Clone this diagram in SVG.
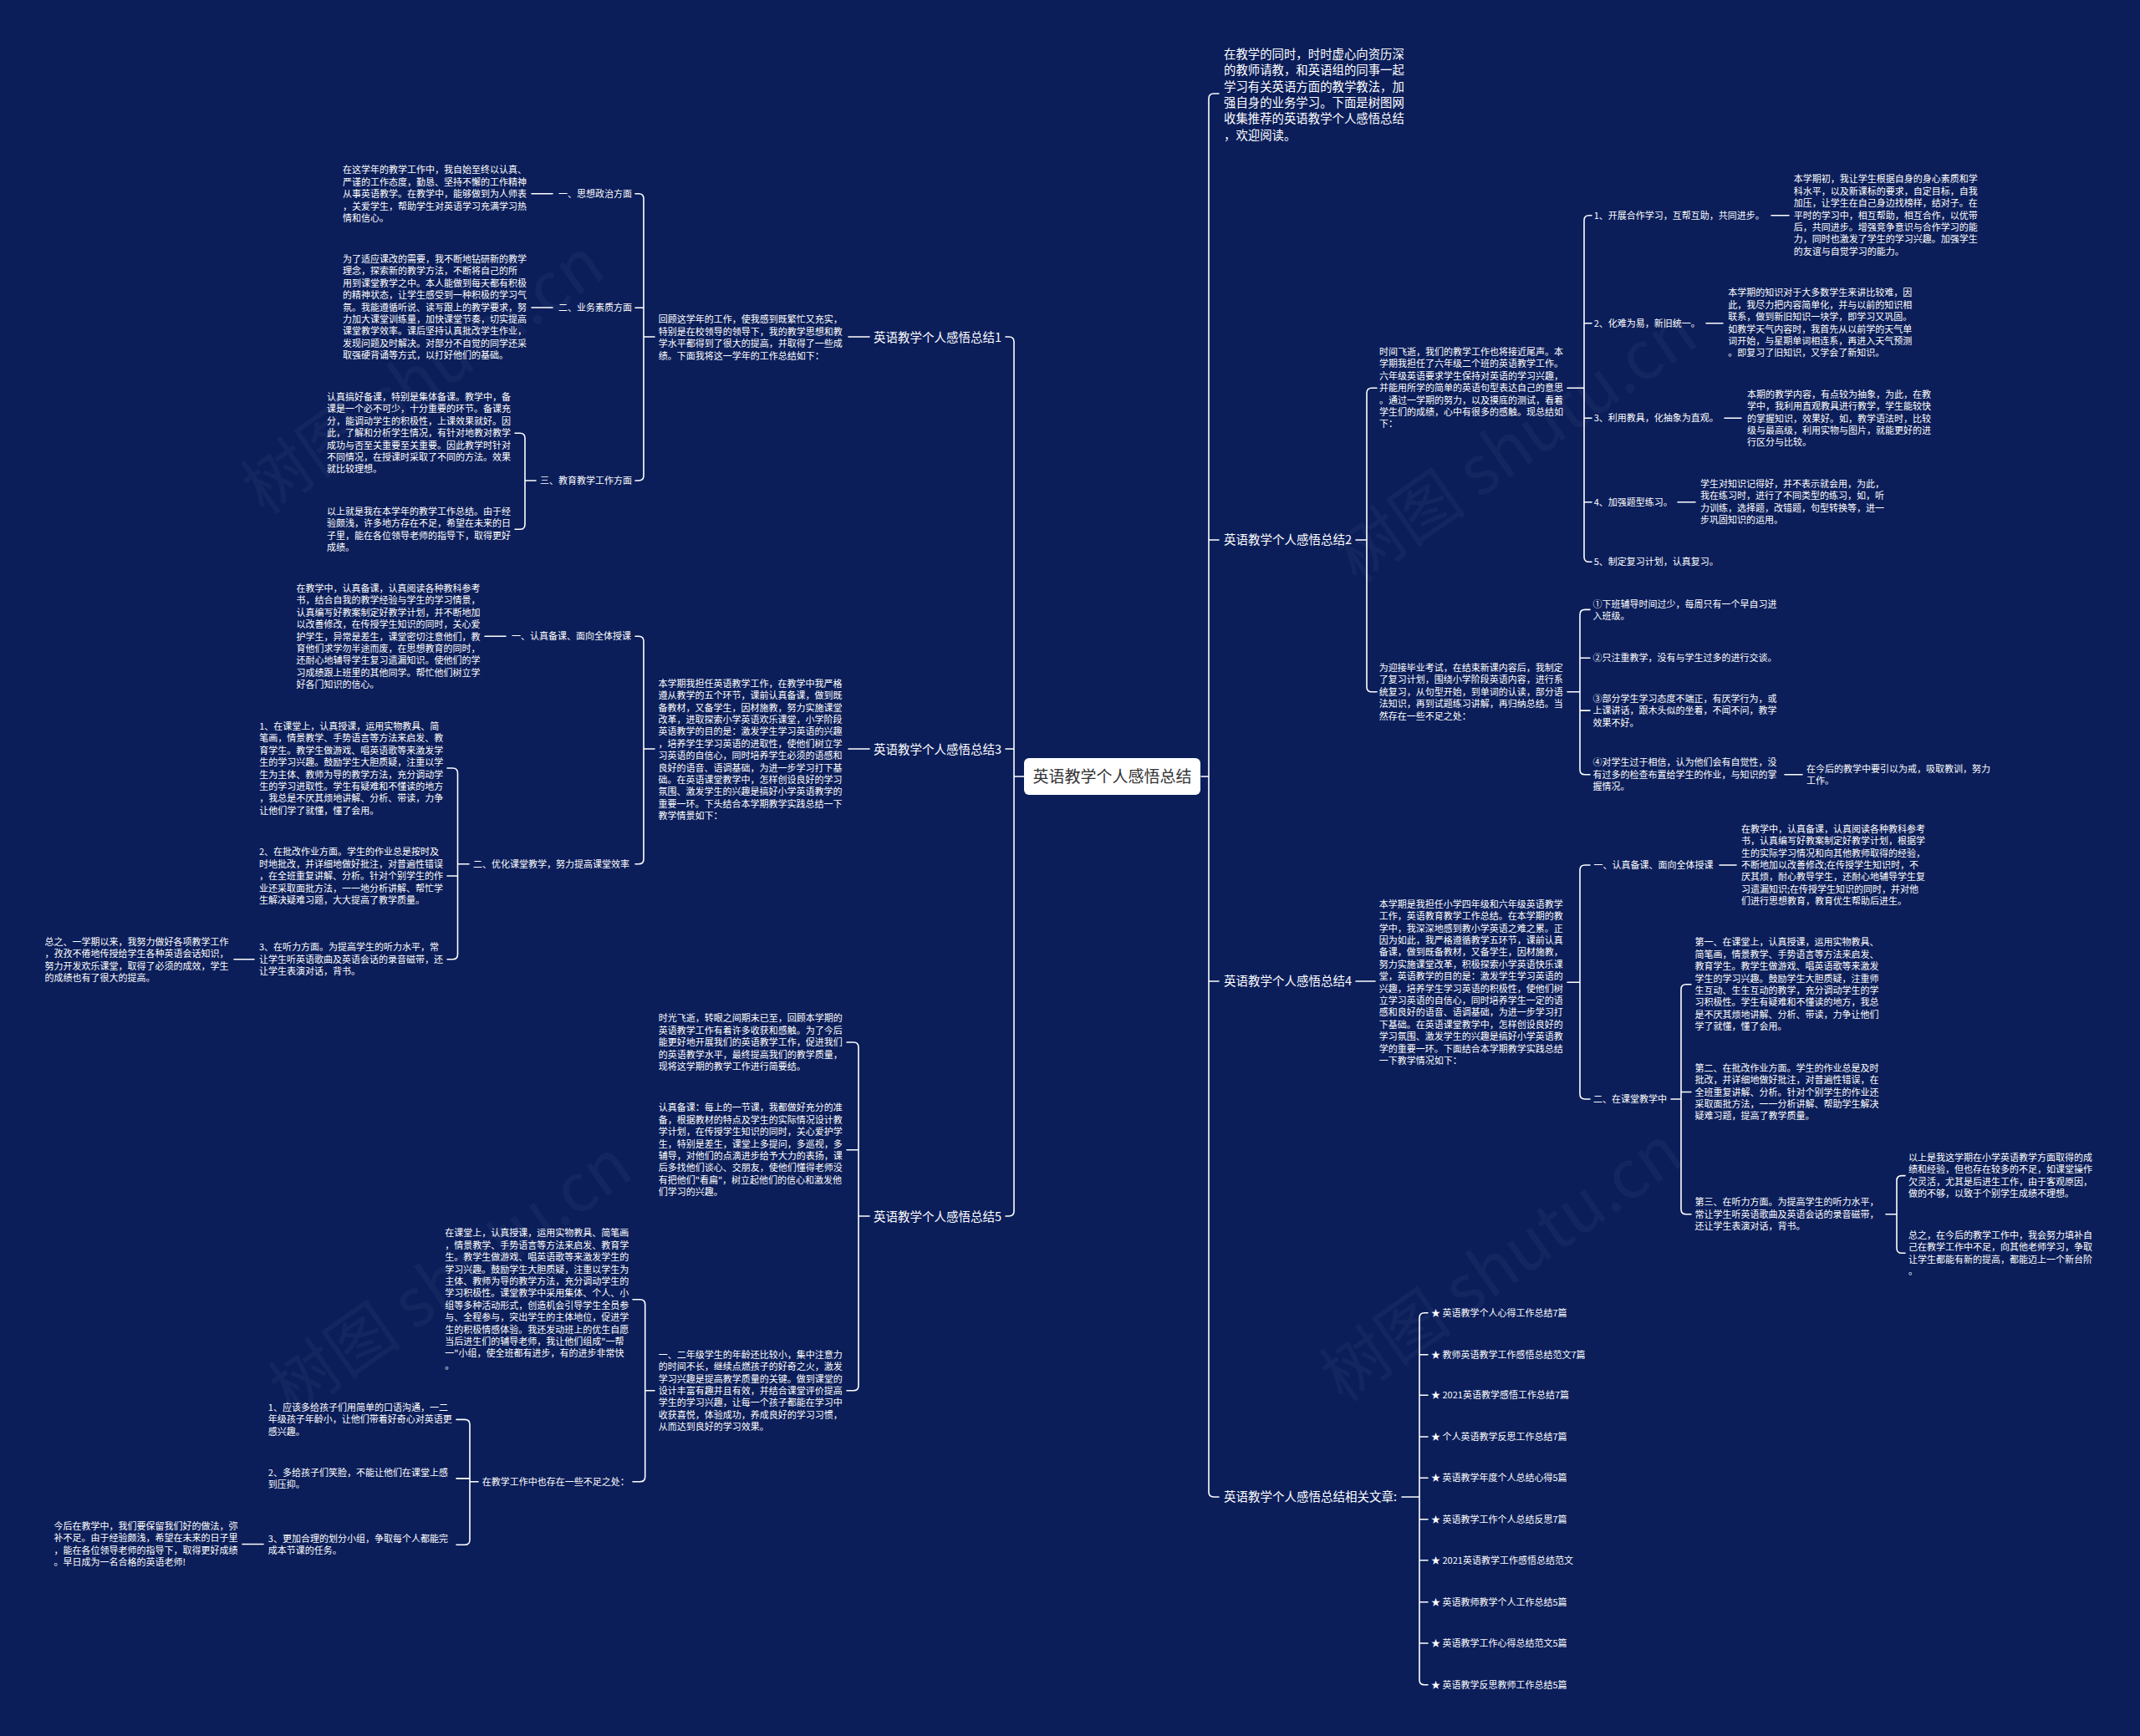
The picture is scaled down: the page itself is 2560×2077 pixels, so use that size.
<svg xmlns="http://www.w3.org/2000/svg" width="2560" height="2077" viewBox="0 0 2560 2077">
<style>
text{font-family:"Noto Sans CJK SC","Noto Sans",sans-serif;fill:#ffffff}
.t{font-size:11px}
.lb{font-size:14.5px}
.in{font-size:14.4px}
.ttl{font-size:19px;fill:#333333}
.wm{font-size:80px;fill:#ffffff;opacity:0.035}
.c{stroke:#ffffff;stroke-width:1.6;fill:none;stroke-linecap:round}
</style>
<rect x="0" y="0" width="2560" height="2077" fill="#0b1e5a"/>
<g id="watermark">
<text class="wm" x="522" y="473" text-anchor="middle" transform="rotate(-35 522 473)">树图 shutu.cn</text>
<text class="wm" x="1829" y="555" text-anchor="middle" transform="rotate(-35 1829 555)">树图 shutu.cn</text>
<text class="wm" x="555" y="1551" text-anchor="middle" transform="rotate(-35 555 1551)">树图 shutu.cn</text>
<text class="wm" x="1812" y="1535" text-anchor="middle" transform="rotate(-35 1812 1535)">树图 shutu.cn</text>
</g>
<g id="connectors" class="c">
<path d="M1203,403 H1207 Q1213,403 1213,409 V1449 Q1213,1455 1207,1455 H1203 M1213,896 H1203 M1225,929 H1213"/>
<path d="M1458,112 H1452 Q1446,112 1446,118 V1785 Q1446,1791 1452,1791 H1458 M1446,646 H1458 M1446,1174 H1458 M1437,929 H1446"/>
<path d="M1040,403 H1015"/>
<path d="M760,231.7 H764 Q770,231.7 770,237.7 V569 Q770,575 764,575 H760 M770,368.3 H760 M783,403 H770"/>
<path d="M636,231.7 H661 M636,368 H661"/>
<path d="M616,518.2 H622 Q628,518.2 628,524.2 V627.3 Q628,633.3 622,633.3 H616 M641,575 H628"/>
<path d="M1040,896 H1015"/>
<path d="M760,761.3 H764 Q770,761.3 770,767.3 V1027.7 Q770,1033.7 764,1033.7 H760 M783,896 H770"/>
<path d="M580,761.3 H605"/>
<path d="M535,919 H541.5 Q547.5,919 547.5,925 V1141.7 Q547.5,1147.7 541.5,1147.7 H535 M547.5,1048 H535 M561,1033.7 H547.5"/>
<path d="M280,1147.7 H304"/>
<path d="M1013,1247 H1021 Q1027,1247 1027,1253 V1657.7 Q1027,1663.7 1021,1663.7 H1013 M1027,1375.7 H1013 M1040,1455 H1027"/>
<path d="M757,1554.7 H765.7 Q771.7,1554.7 771.7,1560.7 V1766.7 Q771.7,1772.7 765.7,1772.7 H757 M783,1663.7 H771.7"/>
<path d="M546,1698.4 H556 Q562,1698.4 562,1704.4 V1842.2 Q562,1848.2 556,1848.2 H546 M562,1768.9 H546 M572,1772.7 H562"/>
<path d="M290,1847.5 H315"/>
<path d="M1647,464.2 H1641 Q1635,464.2 1635,470.2 V821.8 Q1635,827.8 1641,827.8 H1647 M1622,646 H1635"/>
<path d="M1875,464.3 H1895 M1904,257.7 H1901 Q1895,257.7 1895,263.7 V666.3 Q1895,672.3 1901,672.3 H1904 M1895,386.7 H1904 M1895,500.3 H1904 M1895,600.7 H1904"/>
<path d="M2119,257.7 H2140 M2041,386.7 H2061 M2063,500.3 H2083 M2007,600.7 H2028"/>
<path d="M1875,827.8 H1890 M1902,729.4 H1896 Q1890,729.4 1890,735.4 V920.7 Q1890,926.7 1896,926.7 H1902 M1890,787.3 H1902 M1890,850.1 H1902"/>
<path d="M2135,926.7 H2156"/>
<path d="M1622,1174 H1645"/>
<path d="M1875,1175.3 H1890 M1902,1035 H1896 Q1890,1035 1890,1041 V1309 Q1890,1315 1896,1315 H1902"/>
<path d="M2057,1035 H2077"/>
<path d="M1999,1315 H2011 M2023,1177.7 H2017 Q2011,1177.7 2011,1183.7 V1446.7 Q2011,1452.7 2017,1452.7 H2023 M2011,1306.5 H2023"/>
<path d="M2256,1452.7 H2269 M2279,1406.6 H2275 Q2269,1406.6 2269,1412.6 V1493.3 Q2269,1499.3 2275,1499.3 H2279"/>
<path d="M1677,1791 H1698 M1708,1570.7 H1704 Q1698,1570.7 1698,1576.7 V2009.7 Q1698,2015.7 1704,2015.7 H1708 M1698,1620.7 H1708 M1698,1669.3 H1708 M1698,1719 H1708 M1698,1768.3 H1708 M1698,1817.7 H1708 M1698,1866.7 H1708 M1698,1916.7 H1708 M1698,1966 H1708"/>
</g>
<g id="center">
<rect x="1225" y="907" width="211" height="44" rx="6" fill="#ffffff"/>
<text class="ttl" x="1330.5" y="936" text-anchor="middle">英语教学个人感悟总结</text>
</g>
<g id="b1"><text class="lb" x="1198" y="408.5" text-anchor="end">英语教学个人感悟总结1</text></g>
<g id="b1-main"><text class="t" x="787.7" y="386.3"><tspan x="787.7">回顾这学年的工作，使我感到既繁忙又充实，</tspan><tspan x="787.7" dy="14.4">特别是在校领导的领导下，我的教学思想和教</tspan><tspan x="787.7" dy="14.4">学水平都得到了很大的提高，并取得了一些成</tspan><tspan x="787.7" dy="14.4">绩。下面我将这一学年的工作总结如下：</tspan></text></g>
<g id="b1-l1"><text class="t" x="668" y="235.7">一、思想政治方面</text></g>
<g id="b1-l2"><text class="t" x="668" y="372.3">二、业务素质方面</text></g>
<g id="b1-l3"><text class="t" x="646" y="579">三、教育教学工作方面</text></g>
<g id="b1-t1"><text class="t" x="410" y="207.3"><tspan x="410">在这学年的教学工作中，我自始至终以认真、</tspan><tspan x="410" dy="14.4">严谨的工作态度，勤恳、坚持不懈的工作精神</tspan><tspan x="410" dy="14.4">从事英语教学。在教学中，能够做到为人师表</tspan><tspan x="410" dy="14.4">，关爱学生，帮助学生对英语学习充满学习热</tspan><tspan x="410" dy="14.4">情和信心。</tspan></text></g>
<g id="b1-t2"><text class="t" x="410" y="314"><tspan x="410">为了适应课改的需要，我不断地钻研新的教学</tspan><tspan x="410" dy="14.4">理念，探索新的教学方法，不断将自己的所</tspan><tspan x="410" dy="14.4">用到课堂教学之中。本人能做到每天都有积极</tspan><tspan x="410" dy="14.4">的精神状态，让学生感受到一种积极的学习气</tspan><tspan x="410" dy="14.4">氛。我能遵循听说、读写跟上的教学要求，努</tspan><tspan x="410" dy="14.4">力加大课堂训练量，加快课堂节奏，切实提高</tspan><tspan x="410" dy="14.4">课堂教学效率。课后坚持认真批改学生作业，</tspan><tspan x="410" dy="14.4">发现问题及时解决。对部分不自觉的同学还采</tspan><tspan x="410" dy="14.4">取强硬背诵等方式，以打好他们的基础。</tspan></text></g>
<g id="b1-t3a"><text class="t" x="391" y="479"><tspan x="391">认真搞好备课，特别是集体备课。教学中，备</tspan><tspan x="391" dy="14.4">课是一个必不可少，十分重要的环节。备课充</tspan><tspan x="391" dy="14.4">分，能调动学生的积极性，上课效果就好。因</tspan><tspan x="391" dy="14.4">此，了解和分析学生情况，有针对地教对教学</tspan><tspan x="391" dy="14.4">成功与否至关重要至关重要。因此教学时针对</tspan><tspan x="391" dy="14.4">不同情况，在授课时采取了不同的方法。效果</tspan><tspan x="391" dy="14.4">就比较理想。</tspan></text></g>
<g id="b1-t3b"><text class="t" x="391" y="615.7"><tspan x="391">以上就是我在本学年的教学工作总结。由于经</tspan><tspan x="391" dy="14.4">验颇浅，许多地方存在不足，希望在未来的日</tspan><tspan x="391" dy="14.4">子里，能在各位领导老师的指导下，取得更好</tspan><tspan x="391" dy="14.4">成绩。</tspan></text></g>
<g id="b3"><text class="lb" x="1198" y="901.5" text-anchor="end">英语教学个人感悟总结3</text></g>
<g id="b3-main"><text class="t" x="787.4" y="821.7"><tspan x="787.4">本学期我担任英语教学工作，在教学中我严格</tspan><tspan x="787.4" dy="14.4">遵从教学的五个环节，课前认真备课，做到既</tspan><tspan x="787.4" dy="14.4">备教材，又备学生，因材施教，努力实施课堂</tspan><tspan x="787.4" dy="14.4">改革，进取探索小学英语欢乐课堂，小学阶段</tspan><tspan x="787.4" dy="14.4">英语教学的目的是：激发学生学习英语的兴趣</tspan><tspan x="787.4" dy="14.4">，培养学生学习英语的进取性，使他们树立学</tspan><tspan x="787.4" dy="14.4">习英语的自信心，同时培养学生必须的语感和</tspan><tspan x="787.4" dy="14.4">良好的语音、语调基础，为进一步学习打下基</tspan><tspan x="787.4" dy="14.4">础。在英语课堂教学中，怎样创设良好的学习</tspan><tspan x="787.4" dy="14.4">氛围、激发学生的兴趣是搞好小学英语教学的</tspan><tspan x="787.4" dy="14.4">重要一环。下头结合本学期教学实践总结一下</tspan><tspan x="787.4" dy="14.4">教学情景如下：</tspan></text></g>
<g id="b3-l1"><text class="t" x="612" y="765.3">一、认真备课、面向全体授课</text></g>
<g id="b3-t1"><text class="t" x="354.5" y="708"><tspan x="354.5">在教学中，认真备课，认真阅读各种教科参考</tspan><tspan x="354.5" dy="14.4">书，结合自我的教学经验与学生的学习情景，</tspan><tspan x="354.5" dy="14.4">认真编写好教案制定好教学计划，并不断地加</tspan><tspan x="354.5" dy="14.4">以改善修改，在传授学生知识的同时，关心爱</tspan><tspan x="354.5" dy="14.4">护学生，异常是差生，课堂密切注意他们，教</tspan><tspan x="354.5" dy="14.4">育他们求学勿半途而废，在思想教育的同时，</tspan><tspan x="354.5" dy="14.4">还耐心地辅导学生复习遗漏知识。使他们的学</tspan><tspan x="354.5" dy="14.4">习成绩跟上班里的其他同学。帮忙他们树立学</tspan><tspan x="354.5" dy="14.4">好各门知识的信心。</tspan></text></g>
<g id="b3-l2"><text class="t" x="566" y="1037.7">二、优化课堂教学，努力提高课堂效率</text></g>
<g id="b3-t2a"><text class="t" x="310.2" y="873"><tspan x="310.2">1、在课堂上，认真授课，运用实物教具、简</tspan><tspan x="310.2" dy="14.4">笔画，情景教学、手势语言等方法来启发、教</tspan><tspan x="310.2" dy="14.4">育学生。教学生做游戏、唱英语歌等来激发学</tspan><tspan x="310.2" dy="14.4">生的学习兴趣。鼓励学生大胆质疑，注重以学</tspan><tspan x="310.2" dy="14.4">生为主体、教师为导的教学方法，充分调动学</tspan><tspan x="310.2" dy="14.4">生的学习进取性。学生有疑难和不懂读的地方</tspan><tspan x="310.2" dy="14.4">，我总是不厌其烦地讲解、分析、带读，力争</tspan><tspan x="310.2" dy="14.4">让他们学了就懂，懂了会用。</tspan></text></g>
<g id="b3-t2b"><text class="t" x="310" y="1023.3"><tspan x="310">2、在批改作业方面。学生的作业总是按时及</tspan><tspan x="310" dy="14.4">时地批改，并详细地做好批注，对普遍性错误</tspan><tspan x="310" dy="14.4">，在全班重复讲解、分析。针对个别学生的作</tspan><tspan x="310" dy="14.4">业还采取面批方法，一一地分析讲解、帮忙学</tspan><tspan x="310" dy="14.4">生解决疑难习题，大大提高了教学质量。</tspan></text></g>
<g id="b3-t2c"><text class="t" x="310" y="1137.3"><tspan x="310">3、在听力方面。为提高学生的听力水平，常</tspan><tspan x="310" dy="14.4">让学生听英语歌曲及英语会话的录音磁带，还</tspan><tspan x="310" dy="14.4">让学生表演对话，背书。</tspan></text></g>
<g id="b3-t2c1"><text class="t" x="53.6" y="1130.7"><tspan x="53.6">总之、一学期以来，我努力做好各项教学工作</tspan><tspan x="53.6" dy="14.4">，孜孜不倦地传授给学生各种英语会话知识，</tspan><tspan x="53.6" dy="14.4">努力开发欢乐课堂，取得了必须的成效，学生</tspan><tspan x="53.6" dy="14.4">的成绩也有了很大的提高。</tspan></text></g>
<g id="b5"><text class="lb" x="1198" y="1460.5" text-anchor="end">英语教学个人感悟总结5</text></g>
<g id="b5-t1"><text class="t" x="787.7" y="1222.3"><tspan x="787.7">时光飞逝，转眼之间期末已至，回顾本学期的</tspan><tspan x="787.7" dy="14.4">英语教学工作有着许多收获和感触。为了今后</tspan><tspan x="787.7" dy="14.4">能更好地开展我们的英语教学工作，促进我们</tspan><tspan x="787.7" dy="14.4">的英语教学水平，最终提高我们的教学质量，</tspan><tspan x="787.7" dy="14.4">现将这学期的教学工作进行简要结。</tspan></text></g>
<g id="b5-t2"><text class="t" x="787.7" y="1329.3"><tspan x="787.7">认真备课：每上的一节课，我都做好充分的准</tspan><tspan x="787.7" dy="14.4">备，根据教材的特点及学生的实际情况设计教</tspan><tspan x="787.7" dy="14.4">学计划，在传授学生知识的同时，关心爱护学</tspan><tspan x="787.7" dy="14.4">生，特别是差生，课堂上多提问，多巡视，多</tspan><tspan x="787.7" dy="14.4">辅导，对他们的点滴进步给予大力的表扬，课</tspan><tspan x="787.7" dy="14.4">后多找他们谈心、交朋友，使他们懂得老师没</tspan><tspan x="787.7" dy="14.4">有把他们&quot;看扁&quot;，树立起他们的信心和激发他</tspan><tspan x="787.7" dy="14.4">们学习的兴趣。</tspan></text></g>
<g id="b5-t3"><text class="t" x="787.7" y="1624.7"><tspan x="787.7">一、二年级学生的年龄还比较小，集中注意力</tspan><tspan x="787.7" dy="14.4">的时间不长，继续点燃孩子的好奇之火，激发</tspan><tspan x="787.7" dy="14.4">学习兴趣是提高教学质量的关键。做到课堂的</tspan><tspan x="787.7" dy="14.4">设计丰富有趣并且有效，并结合课堂评价提高</tspan><tspan x="787.7" dy="14.4">学生的学习兴趣，让每一个孩子都能在学习中</tspan><tspan x="787.7" dy="14.4">收获喜悦，体验成功，养成良好的学习习惯，</tspan><tspan x="787.7" dy="14.4">从而达到良好的学习效果。</tspan></text></g>
<g id="b5-t3a"><text class="t" x="532.3" y="1479.3"><tspan x="532.3">在课堂上，认真授课，运用实物教具、简笔画</tspan><tspan x="532.3" dy="14.4">，情景教学、手势语言等方法来启发、教育学</tspan><tspan x="532.3" dy="14.4">生。教学生做游戏、唱英语歌等来激发学生的</tspan><tspan x="532.3" dy="14.4">学习兴趣。鼓励学生大胆质疑，注重以学生为</tspan><tspan x="532.3" dy="14.4">主体、教师为导的教学方法，充分调动学生的</tspan><tspan x="532.3" dy="14.4">学习积极性。课堂教学中采用集体、个人、小</tspan><tspan x="532.3" dy="14.4">组等多种活动形式，创造机会引导学生全员参</tspan><tspan x="532.3" dy="14.4">与、全程参与，突出学生的主体地位，促进学</tspan><tspan x="532.3" dy="14.4">生的积极情感体验。我还发动班上的优生自愿</tspan><tspan x="532.3" dy="14.4">当后进生们的辅导老师，我让他们组成&quot;一帮</tspan><tspan x="532.3" dy="14.4">一&quot;小组，使全班都有进步，有的进步非常快</tspan><tspan x="532.3" dy="14.4">。</tspan></text></g>
<g id="b5-l3b"><text class="t" x="576.7" y="1776.7">在教学工作中也存在一些不足之处：</text></g>
<g id="b5-i1"><text class="t" x="320.8" y="1688"><tspan x="320.8">1、应该多给孩子们用简单的口语沟通，一二</tspan><tspan x="320.8" dy="14.4">年级孩子年龄小，让他们带着好奇心对英语更</tspan><tspan x="320.8" dy="14.4">感兴趣。</tspan></text></g>
<g id="b5-i2"><text class="t" x="320.8" y="1765.7"><tspan x="320.8">2、多给孩子们笑脸，不能让他们在课堂上感</tspan><tspan x="320.8" dy="14.4">到压抑。</tspan></text></g>
<g id="b5-i3"><text class="t" x="320.8" y="1845"><tspan x="320.8">3、更加合理的划分小组，争取每个人都能完</tspan><tspan x="320.8" dy="14.4">成本节课的任务。</tspan></text></g>
<g id="b5-i3c"><text class="t" x="64.5" y="1829.7"><tspan x="64.5">今后在教学中，我们要保留我们好的做法，弥</tspan><tspan x="64.5" dy="14.4">补不足。由于经验颇浅，希望在未来的日子里</tspan><tspan x="64.5" dy="14.4">，能在各位领导老师的指导下，取得更好成绩</tspan><tspan x="64.5" dy="14.4">。早日成为一名合格的英语老师!</tspan></text></g>
<g id="intro"><text class="in" x="1464" y="70"><tspan x="1464">在教学的同时，时时虚心向资历深</tspan><tspan x="1464" dy="19.3">的教师请教，和英语组的同事一起</tspan><tspan x="1464" dy="19.3">学习有关英语方面的教学教法，加</tspan><tspan x="1464" dy="19.3">强自身的业务学习。下面是树图网</tspan><tspan x="1464" dy="19.3">收集推荐的英语教学个人感悟总结</tspan><tspan x="1464" dy="19.3">，欢迎阅读。</tspan></text></g>
<g id="b2"><text class="lb" x="1464" y="651">英语教学个人感悟总结2</text></g>
<g id="b2-main"><text class="t" x="1650" y="425"><tspan x="1650">时间飞逝，我们的教学工作也将接近尾声。本</tspan><tspan x="1650" dy="14.4">学期我担任了六年级二个班的英语教学工作。</tspan><tspan x="1650" dy="14.4">六年级英语要求学生保持对英语的学习兴趣，</tspan><tspan x="1650" dy="14.4">并能用所学的简单的英语句型表达自己的意思</tspan><tspan x="1650" dy="14.4">。通过一学期的努力，以及摸底的测试，看着</tspan><tspan x="1650" dy="14.4">学生们的成绩，心中有很多的感触。现总结如</tspan><tspan x="1650" dy="14.4">下：</tspan></text></g>
<g id="b2-l1"><text class="t" x="1906.7" y="261.7">1、开展合作学习，互帮互助，共同进步。</text></g>
<g id="b2-t1"><text class="t" x="2145.7" y="218.3"><tspan x="2145.7">本学期初，我让学生根据自身的身心素质和学</tspan><tspan x="2145.7" dy="14.4">科水平，以及新课标的要求，自定目标，自我</tspan><tspan x="2145.7" dy="14.4">加压，让学生在自己身边找榜样，结对子。在</tspan><tspan x="2145.7" dy="14.4">平时的学习中，相互帮助，相互合作，以优带</tspan><tspan x="2145.7" dy="14.4">后，共同进步。增强竞争意识与合作学习的能</tspan><tspan x="2145.7" dy="14.4">力，同时也激发了学生的学习兴趣。加强学生</tspan><tspan x="2145.7" dy="14.4">的友谊与自觉学习的能力。</tspan></text></g>
<g id="b2-l2"><text class="t" x="1906.7" y="390.7">2、化难为易，新旧统一。</text></g>
<g id="b2-t2"><text class="t" x="2067.3" y="354.3"><tspan x="2067.3">本学期的知识对于大多数学生来讲比较难，因</tspan><tspan x="2067.3" dy="14.4">此，我尽力把内容简单化，并与以前的知识相</tspan><tspan x="2067.3" dy="14.4">联系，做到新旧知识一块学，即学习又巩固。</tspan><tspan x="2067.3" dy="14.4">如教学天气内容时，我首先从以前学的天气单</tspan><tspan x="2067.3" dy="14.4">词开始，与星期单词相连系，再进入天气预测</tspan><tspan x="2067.3" dy="14.4">。即复习了旧知识，又学会了新知识。</tspan></text></g>
<g id="b2-l3"><text class="t" x="1906.7" y="504.3">3、利用教具，化抽象为直观。</text></g>
<g id="b2-t3"><text class="t" x="2090" y="475.7"><tspan x="2090">本期的教学内容，有点较为抽象，为此，在教</tspan><tspan x="2090" dy="14.4">学中，我利用直观教具进行教学，学生能较快</tspan><tspan x="2090" dy="14.4">的掌握知识，效果好。如，教学语法时，比较</tspan><tspan x="2090" dy="14.4">级与最高级，利用实物与图片，就能更好的进</tspan><tspan x="2090" dy="14.4">行区分与比较。</tspan></text></g>
<g id="b2-l4"><text class="t" x="1906.7" y="604.7">4、加强题型练习。</text></g>
<g id="b2-t4"><text class="t" x="2034" y="583"><tspan x="2034">学生对知识记得好，并不表示就会用，为此，</tspan><tspan x="2034" dy="14.4">我在练习时，进行了不同类型的练习，如，听</tspan><tspan x="2034" dy="14.4">力训练，选择题，改错题，句型转换等，进一</tspan><tspan x="2034" dy="14.4">步巩固知识的运用。</tspan></text></g>
<g id="b2-l5"><text class="t" x="1906.7" y="676.3">5、制定复习计划，认真复习。</text></g>
<g id="b2-main2"><text class="t" x="1649.7" y="803"><tspan x="1649.7">为迎接毕业考试，在结束新课内容后，我制定</tspan><tspan x="1649.7" dy="14.4">了复习计划，围绕小学阶段英语内容，进行系</tspan><tspan x="1649.7" dy="14.4">统复习，从句型开始，到单词的认读，部分语</tspan><tspan x="1649.7" dy="14.4">法知识，再到试题练习讲解，再归纳总结。当</tspan><tspan x="1649.7" dy="14.4">然存在一些不足之处：</tspan></text></g>
<g id="b2-p1"><text class="t" x="1905.6" y="726.7"><tspan x="1905.6">①下班辅导时间过少，每周只有一个早自习进</tspan><tspan x="1905.6" dy="14.4">入班级。</tspan></text></g>
<g id="b2-p2"><text class="t" x="1905.6" y="791.3">②只注重教学，没有与学生过多的进行交谈。</text></g>
<g id="b2-p3"><text class="t" x="1905.6" y="839.7"><tspan x="1905.6">③部分学生学习态度不端正，有厌学行为，或</tspan><tspan x="1905.6" dy="14.4">上课讲话，跟木头似的坐着，不闻不问，教学</tspan><tspan x="1905.6" dy="14.4">效果不好。</tspan></text></g>
<g id="b2-p4"><text class="t" x="1905.6" y="916.3"><tspan x="1905.6">④对学生过于相信，认为他们会有自觉性，没</tspan><tspan x="1905.6" dy="14.4">有过多的检查布置给学生的作业，与知识的掌</tspan><tspan x="1905.6" dy="14.4">握情况。</tspan></text></g>
<g id="b2-p4c"><text class="t" x="2161" y="924"><tspan x="2161">在今后的教学中要引以为戒，吸取教训，努力</tspan><tspan x="2161" dy="14.4">工作。</tspan></text></g>
<g id="b4"><text class="lb" x="1464" y="1179">英语教学个人感悟总结4</text></g>
<g id="b4-main"><text class="t" x="1649.8" y="1085.7"><tspan x="1649.8">本学期是我担任小学四年级和六年级英语教学</tspan><tspan x="1649.8" dy="14.4">工作，英语教育教学工作总结。在本学期的教</tspan><tspan x="1649.8" dy="14.4">学中，我深深地感到教小学英语之难之累。正</tspan><tspan x="1649.8" dy="14.4">因为如此，我严格遵循教学五环节，课前认真</tspan><tspan x="1649.8" dy="14.4">备课，做到既备教材，又备学生，因材施教，</tspan><tspan x="1649.8" dy="14.4">努力实施课堂改革，积极探索小学英语快乐课</tspan><tspan x="1649.8" dy="14.4">堂，英语教学的目的是：激发学生学习英语的</tspan><tspan x="1649.8" dy="14.4">兴趣，培养学生学习英语的积极性，使他们树</tspan><tspan x="1649.8" dy="14.4">立学习英语的自信心，同时培养学生一定的语</tspan><tspan x="1649.8" dy="14.4">感和良好的语音、语调基础，为进一步学习打</tspan><tspan x="1649.8" dy="14.4">下基础。在英语课堂教学中，怎样创设良好的</tspan><tspan x="1649.8" dy="14.4">学习氛围、激发学生的兴趣是搞好小学英语教</tspan><tspan x="1649.8" dy="14.4">学的重要一环。下面结合本学期教学实践总结</tspan><tspan x="1649.8" dy="14.4">一下教学情况如下：</tspan></text></g>
<g id="b4-l1"><text class="t" x="1906.5" y="1039">一、认真备课、面向全体授课</text></g>
<g id="b4-t1"><text class="t" x="2083" y="995.7"><tspan x="2083">在教学中，认真备课，认真阅读各种教科参考</tspan><tspan x="2083" dy="14.4">书，认真编写好教案制定好教学计划，根据学</tspan><tspan x="2083" dy="14.4">生的实际学习情况和向其他教师取得的经验，</tspan><tspan x="2083" dy="14.4">不断地加以改善修改;在传授学生知识时，不</tspan><tspan x="2083" dy="14.4">厌其烦，耐心教导学生，还耐心地辅导学生复</tspan><tspan x="2083" dy="14.4">习遗漏知识;在传授学生知识的同时，并对他</tspan><tspan x="2083" dy="14.4">们进行思想教育，教育优生帮助后进生。</tspan></text></g>
<g id="b4-l2"><text class="t" x="1906" y="1319">二、在课堂教学中</text></g>
<g id="b4-t2a"><text class="t" x="2027.5" y="1131.3"><tspan x="2027.5">第一、在课堂上，认真授课，运用实物教具、</tspan><tspan x="2027.5" dy="14.4">简笔画，情景教学、手势语言等方法来启发、</tspan><tspan x="2027.5" dy="14.4">教育学生。教学生做游戏、唱英语歌等来激发</tspan><tspan x="2027.5" dy="14.4">学生的学习兴趣。鼓励学生大胆质疑，注重师</tspan><tspan x="2027.5" dy="14.4">生互动、生生互动的教学，充分调动学生的学</tspan><tspan x="2027.5" dy="14.4">习积极性。学生有疑难和不懂读的地方，我总</tspan><tspan x="2027.5" dy="14.4">是不厌其烦地讲解、分析、带读，力争让他们</tspan><tspan x="2027.5" dy="14.4">学了就懂，懂了会用。</tspan></text></g>
<g id="b4-t2b"><text class="t" x="2027.5" y="1281.7"><tspan x="2027.5">第二、在批改作业方面。学生的作业总是及时</tspan><tspan x="2027.5" dy="14.4">批改，并详细地做好批注，对普遍性错误，在</tspan><tspan x="2027.5" dy="14.4">全班重复讲解、分析。针对个别学生的作业还</tspan><tspan x="2027.5" dy="14.4">采取面批方法，一一分析讲解、帮助学生解决</tspan><tspan x="2027.5" dy="14.4">疑难习题，提高了教学质量。</tspan></text></g>
<g id="b4-t2c"><text class="t" x="2027.5" y="1442.3"><tspan x="2027.5">第三、在听力方面。为提高学生的听力水平，</tspan><tspan x="2027.5" dy="14.4">常让学生听英语歌曲及英语会话的录音磁带，</tspan><tspan x="2027.5" dy="14.4">还让学生表演对话，背书。</tspan></text></g>
<g id="b4-t2c1"><text class="t" x="2283" y="1389"><tspan x="2283">以上是我这学期在小学英语教学方面取得的成</tspan><tspan x="2283" dy="14.4">绩和经验，但也存在较多的不足，如课堂操作</tspan><tspan x="2283" dy="14.4">欠灵活，尤其是后进生工作，由于客观原因，</tspan><tspan x="2283" dy="14.4">做的不够，以致于个别学生成绩不理想。</tspan></text></g>
<g id="b4-t2c2"><text class="t" x="2283" y="1481.7"><tspan x="2283">总之，在今后的教学工作中，我会努力填补自</tspan><tspan x="2283" dy="14.4">己在教学工作中不足，向其他老师学习，争取</tspan><tspan x="2283" dy="14.4">让学生都能有新的提高，都能迈上一个新台阶</tspan><tspan x="2283" dy="14.4">。</tspan></text></g>
<g id="related"><text class="lb" x="1464" y="1796">英语教学个人感悟总结相关文章:</text></g>
<g id="related-items">
<text class="t" x="1712" y="1574.7">★ 英语教学个人心得工作总结7篇</text>
<text class="t" x="1712" y="1624.7">★ 教师英语教学工作感悟总结范文7篇</text>
<text class="t" x="1712" y="1673.3">★ 2021英语教学感悟工作总结7篇</text>
<text class="t" x="1712" y="1723">★ 个人英语教学反思工作总结7篇</text>
<text class="t" x="1712" y="1772.3">★ 英语教学年度个人总结心得5篇</text>
<text class="t" x="1712" y="1821.7">★ 英语教学工作个人总结反思7篇</text>
<text class="t" x="1712" y="1870.7">★ 2021英语教学工作感悟总结范文</text>
<text class="t" x="1712" y="1920.7">★ 英语教师教学个人工作总结5篇</text>
<text class="t" x="1712" y="1970">★ 英语教学工作心得总结范文5篇</text>
<text class="t" x="1712" y="2019.7">★ 英语教学反思教师工作总结5篇</text>
</g>
</svg>
